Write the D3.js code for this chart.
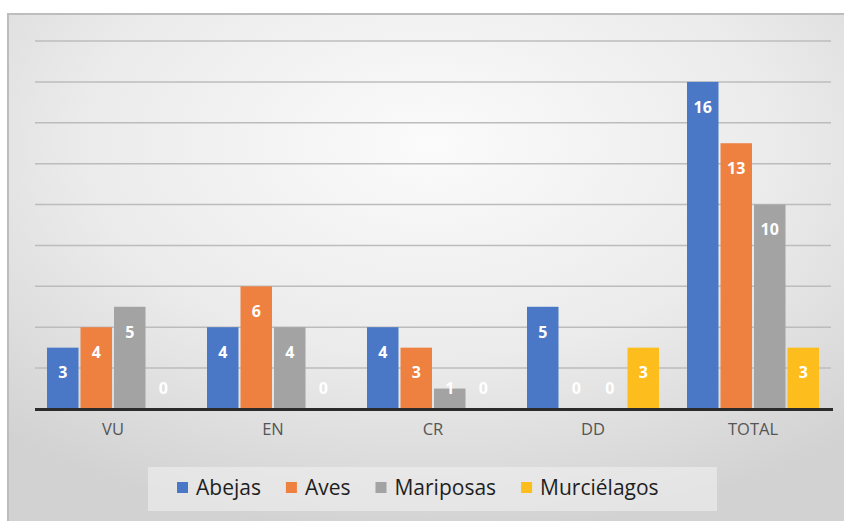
<!DOCTYPE html>
<html>
<head>
<meta charset="utf-8">
<script src="https://cdn.jsdelivr.net/npm/d3@7"></script>
<style>
  body { margin: 0; background: #fff; }
  svg { display: block; font-family: "Open Sans", sans-serif; }
</style>
</head>
<body>
<div id="chart"></div>
<script>
// data
const categories = ["VU", "EN", "CR", "DD", "TOTAL"]
const series = ["Abejas", "Aves", "Mariposas", "Murciélagos"]
const abejas = [3, 4, 4, 5, 16]
const aves = [4, 6, 3, 0, 13]
const mariposas = [5, 4, 1, 0, 10]
const murcielagos = [0, 0, 0, 3, 3]
const colors = ["#4a78c6", "#ee8140", "#a3a3a3", "#fdbd1c"]
const yTicks = [2, 4, 6, 8, 10, 12, 14, 16, 18]

const values = [abejas, aves, mariposas, murcielagos]
const rows = categories.map((c, i) => ({
    cat: c,
    vals: series.map((s, j) => ({ key: s, value: values[j][i], color: colors[j] }))
}))

const W = 844, H = 521
let svg = d3.select("#chart").append("svg")
    .attr("width", W)
    .attr("height", H)

// background with soft radial shading
let defs = svg.append("defs")
let grad = defs.append("radialGradient")
    .attr("id", "bg")
    .attr("cx", "50%").attr("cy", "25%").attr("r", "75%")
grad.append("stop").attr("offset", "0%").attr("stop-color", "#fbfbfb")
grad.append("stop").attr("offset", "55%").attr("stop-color", "#ebebeb")
grad.append("stop").attr("offset", "100%").attr("stop-color", "#d2d2d2")

svg.append("rect")
    .attr("x", 8).attr("y", 14)
    .attr("width", W).attr("height", H)
    .attr("fill", "url(#bg)")
    .attr("stroke", "#bdbdbd")
    .attr("stroke-width", 2)

// scales
let x0 = d3.scaleBand()
    .domain(categories)
    .range([33, 833])
    .paddingInner(0.175)
    .paddingOuter(0.0875)
let x1 = d3.scaleBand()
    .domain(series)
    .range([0, x0.bandwidth()])
    .paddingInner(0.06)
let y = d3.scaleLinear()
    .domain([0, 18])
    .range([409, 41])

// gridlines
svg.append("g")
    .selectAll("line")
    .data(yTicks)
    .enter().append("line")
        .attr("x1", 35).attr("x2", 831)
        .attr("y1", d => y(d)).attr("y2", d => y(d))
        .attr("stroke", "#bcbcbc")
        .attr("stroke-width", 1.5)

// bars
let groups = svg.append("g")
    .selectAll("g")
    .data(rows)
    .enter().append("g")
        .attr("transform", d => `translate(${x0(d.cat)},0)`)

groups.selectAll("rect")
    .data(d => d.vals)
    .enter().append("rect")
        .attr("x", d => x1(d.key))
        .attr("y", d => y(d.value))
        .attr("width", x1.bandwidth())
        .attr("height", d => y(0) - y(d.value))
        .attr("fill", d => d.color)

groups.selectAll("text")
    .data(d => d.vals)
    .enter().append("text")
        .attr("x", d => x1(d.key) + x1.bandwidth() / 2)
        .attr("y", d => Math.min(y(d.value) + 25, y(0) - 21))
        .attr("dy", "0.36em")
        .attr("text-anchor", "middle")
        .attr("fill", "#fff")
        .attr("font-size", 16)
        .attr("font-weight", 700)
        .text(d => d.value)

// baseline axis
let xAxis = d3.axisBottom(x0).tickSize(0).tickPadding(14)
let axisG = svg.append("g")
    .attr("transform", `translate(0,${y(0)})`)
    .call(xAxis)
axisG.select(".domain").remove()
axisG.selectAll("text")
    .attr("font-family", "Open Sans, sans-serif")
    .attr("font-size", 16.5)
    .attr("fill", "#555")
svg.append("line")
    .attr("x1", 35).attr("x2", 833)
    .attr("y1", y(0) + 0.5).attr("y2", y(0) + 0.5)
    .attr("stroke", "#2b2b2b")
    .attr("stroke-width", 3)

// legend
svg.append("rect")
    .attr("x", 148).attr("y", 467)
    .attr("width", 569).attr("height", 44)
    .attr("fill", "#f0f0f0")
    .attr("opacity", 0.6)

let lx = 177
series.forEach((s, i) => {
    svg.append("rect")
        .attr("x", lx).attr("y", 482)
        .attr("width", 11).attr("height", 11)
        .attr("fill", colors[i])
    let t = svg.append("text")
        .attr("x", lx + 19)
        .attr("y", 495)
        .attr("font-size", 21)
        .attr("fill", "#1f1f1f")
        .text(s)
    lx += 19 + t.node().getComputedTextLength() + 25
})
</script>
</body>
</html>
